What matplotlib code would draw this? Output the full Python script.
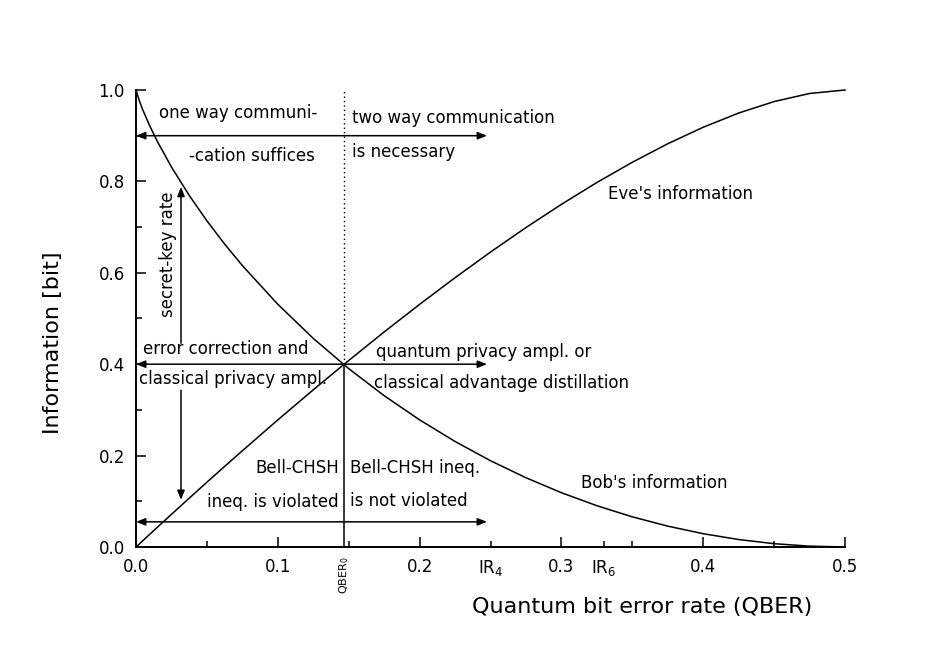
import matplotlib
matplotlib.use("Agg")
import matplotlib.pyplot as plt
from matplotlib.ticker import FixedLocator

plt.rcParams['font.family'] = ['DejaVu Sans']
plt.rcParams['mathtext.fontset'] = 'dejavusans'

# ---- data ----
qber = [0.0, 0.0025, 0.005, 0.01, 0.015, 0.025, 0.0375, 0.05, 0.0625, 0.075,
        0.1, 0.125, 0.15, 0.175, 0.2, 0.225, 0.25, 0.275, 0.3, 0.325,
        0.35, 0.375, 0.4, 0.425, 0.45, 0.475, 0.5]
bob_info = [1.0, 0.9748, 0.9546, 0.9192, 0.8876, 0.8313, 0.7693, 0.7136, 0.6627, 0.6157,
            0.5310, 0.4564, 0.3902, 0.3310, 0.2781, 0.2308, 0.1887, 0.1515, 0.1187, 0.0903,
            0.0659, 0.0456, 0.0290, 0.0163, 0.0072, 0.0018, 0.0]
eve_info = [0.0, 0.0072, 0.0144, 0.0288, 0.0431, 0.0715, 0.1068, 0.1418, 0.1764, 0.2106,
            0.2781, 0.3440, 0.4081, 0.4706, 0.5310, 0.5893, 0.6454, 0.6990, 0.7498, 0.7976,
            0.8419, 0.8824, 0.9185, 0.9496, 0.9747, 0.9924, 1.0]
qber0 = 0.1464
cross_info = 0.4

major_x = [0.0, 0.1, 0.2, 0.3, 0.4, 0.5]
major_x_labels = ['0.0', '0.1', '0.2', '0.3', '0.4', '0.5']
minor_x = [0.05, 0.15, 0.25, 0.33, 0.35, 0.45]
minor_x_labels = ['', '', 'IR$_4$', 'IR$_6$', '', '']
major_y = [0.0, 0.2, 0.4, 0.6, 0.8, 1.0]
major_y_labels = ['0.0', '0.2', '0.4', '0.6', '0.8', '1.0']
minor_y = [0.1, 0.3, 0.5, 0.7, 0.9]

arrow_right_end = 0.2475
y_top_arrow = 0.9
y_bottom_arrow = 0.055
x_vert_arrows = 0.0317

fig = plt.figure(figsize=(9.28, 6.47), dpi=100)
ax = fig.add_axes([0.1466, 0.1546, 0.7640, 0.7063])

lw = 1.1
ax.plot(qber, bob_info, color='black', lw=lw, clip_on=False)
ax.plot(qber, eve_info, color='black', lw=lw, clip_on=False)

# vertical line at QBER0
ax.plot([qber0, qber0], [0, cross_info], color='black', lw=lw)
ax.plot([qber0, qber0], [cross_info, 1.0], color='black', lw=1.0,
        linestyle=(0, (1, 2.2)))

def arrow(x0, y0, x1, y1, style='-|>'):
    ax.annotate('', xy=(x1, y1), xytext=(x0, y0),
                arrowprops=dict(arrowstyle=f'{style},head_length=0.55,head_width=0.22',
                                color='black', lw=lw, shrinkA=0, shrinkB=0,
                                mutation_scale=10),
                annotation_clip=False)

arrow(0, y_top_arrow, arrow_right_end, y_top_arrow, '<|-|>')
arrow(0, y_bottom_arrow, arrow_right_end, y_bottom_arrow, '<|-|>')
arrow(qber0, cross_info, 0, cross_info)
arrow(qber0, cross_info, arrow_right_end, cross_info)
arrow(x_vert_arrows, 0.446, x_vert_arrows, 0.788)
arrow(x_vert_arrows, 0.343, x_vert_arrows, 0.103)

fs = 12
ax.text(0.072, 0.950, 'one way communi-', fontsize=fs, ha='center', va='center')
ax.text(0.0818, 0.856, '-cation suffices', fontsize=fs, ha='center', va='center')
ax.text(0.1523, 0.939, 'two way communication', fontsize=fs, ha='left', va='center')
ax.text(0.1523, 0.865, 'is necessary', fontsize=fs, ha='left', va='center')
ax.text(0.333, 0.772, "Eve's information", fontsize=fs, ha='left', va='center')
ax.text(0.0226, 0.641, 'secret-key rate', fontsize=fs, ha='center', va='center', rotation=90)
ax.text(0.0632, 0.433, 'error correction and', fontsize=fs, ha='center', va='center')
ax.text(0.0684, 0.368, 'classical privacy ampl.', fontsize=fs, ha='center', va='center')
ax.text(0.1692, 0.427, 'quantum privacy ampl. or', fontsize=fs, ha='left', va='center')
ax.text(0.1678, 0.359, 'classical advantage distillation', fontsize=fs, ha='left', va='center')
ax.text(0.1432, 0.173, 'Bell-CHSH', fontsize=fs, ha='right', va='center')
ax.text(0.1432, 0.098, 'ineq. is violated', fontsize=fs, ha='right', va='center')
ax.text(0.1509, 0.173, 'Bell-CHSH ineq.', fontsize=fs, ha='left', va='center')
ax.text(0.1509, 0.100, 'is not violated', fontsize=fs, ha='left', va='center')
ax.text(0.3138, 0.140, "Bob's information", fontsize=fs, ha='left', va='center')

ax.text(qber0, -0.02, 'QBER$_0$', fontsize=8, rotation=90, ha='center', va='top')

ax.set_xlim(0, 0.5)
ax.set_ylim(0, 1.0)
for s in ['top', 'right']:
    ax.spines[s].set_visible(False)
for s in ['left', 'bottom']:
    ax.spines[s].set_linewidth(1.4)

ax.xaxis.set_major_locator(FixedLocator(major_x))
ax.set_xticklabels(major_x_labels)
ax.xaxis.set_minor_locator(FixedLocator(minor_x))
ax.set_xticklabels(minor_x_labels, minor=True)
ax.yaxis.set_major_locator(FixedLocator(major_y))
ax.set_yticklabels(major_y_labels)
ax.yaxis.set_minor_locator(FixedLocator(minor_y))

ax.tick_params(which='both', direction='in', width=1.1, labelsize=12, pad=8)
ax.tick_params(which='major', length=7)
ax.tick_params(which='minor', length=4)

fig.text(642 / 928, 1 - 607 / 647, 'Quantum bit error rate (QBER)', fontsize=16,
         ha='center', va='center')
fig.text(53 / 928, 1 - 343 / 647, 'Information [bit]', fontsize=16,
         ha='center', va='center', rotation=90)

fig.savefig('out.png', dpi=100)
